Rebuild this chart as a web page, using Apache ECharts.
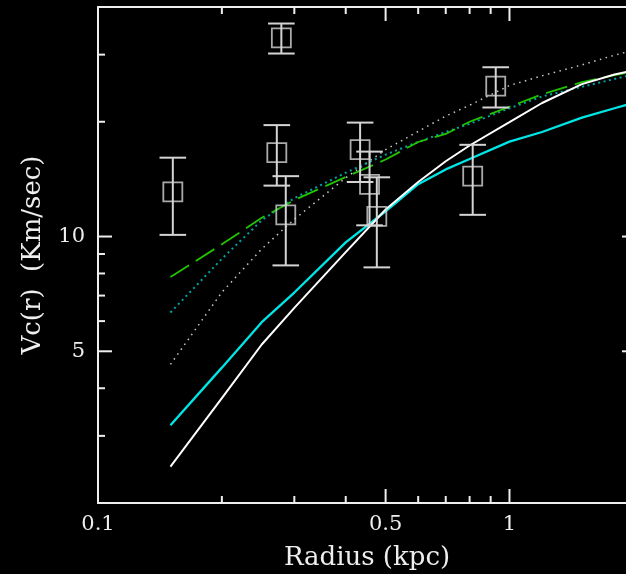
<!DOCTYPE html>
<html>
<head>
<meta charset="utf-8">
<script src="https://cdn.jsdelivr.net/npm/echarts@6/dist/echarts.min.js"></script>
<style>
html,body{margin:0;padding:0;background:#000;}
#chart{width:626px;height:574px;}
</style>
</head>
<body>
<div id="chart"></div>
<script>
// ---- data (linear units; plotted on log-log axes) ----
const radius = [0.15, 0.2, 0.25, 0.3, 0.4, 0.5, 0.6, 0.7, 0.8, 1.0, 1.2, 1.5, 1.8, 2.0];
const vcWhite  = [2.49, 3.77, 5.21, 6.5, 9.1, 11.77, 13.9, 15.76, 17.33, 19.95, 22.4, 25.1, 26.6, 27.3];
const vcCyan   = [3.2, 4.53, 5.96, 7.13, 9.65, 11.65, 13.72, 15.0, 15.97, 17.74, 18.8, 20.5, 21.7, 22.4];
const vcGreen  = [7.83, 9.54, 11.2, 12.46, 14.33, 15.92, 17.7, 18.58, 20.0, 21.9, 23.6, 25.4, 26.5, 27.1];
const vcTeal   = [6.32, 8.74, 11.03, 12.61, 14.7, 16.4, 17.7, 18.8, 19.75, 21.7, 23.3, 24.7, 25.9, 26.6];
const vcGray   = [4.62, 7.14, 9.28, 11.1, 14.26, 16.9, 18.87, 20.7, 22.1, 24.9, 26.4, 28.2, 29.9, 30.8];

const obsRadius = [0.152, 0.279, 0.272, 0.286, 0.4335, 0.457, 0.476, 0.814, 0.926];
const obsVc     = [13.1, 33.2, 16.6, 11.4, 16.9, 13.7, 11.3, 14.4, 24.8];
const obsErr    = [3, 3, 3, 3, 3, 3, 3, 3, 3];

const xMajorTicks = [0.5, 1];
const xMinorTicks = [0.2, 0.3, 0.4, 0.6, 0.7, 0.8, 0.9, 2];
const xTickLabels = [0.1, 0.5, 1];
const yMajorTicks = [5, 10];
const yMinorTicks = [3, 4, 6, 7, 8, 9, 20, 30];
const yTickLabels = [5, 10];
const xRange = [0.1, 2.03];
const yRange = [2, 40];

// ---- build ----
const L = Math.log10;
const fg = '#eeeeee';
const tickColor = '#eeeeee';
const font = 'DejaVu Serif';
const fmt = v => String(Math.round(Math.pow(10, v) * 1000) / 1000);
const curve = ys => radius.map((r, i) => [L(r), L(ys[i])]);
const MAJ = 14, MIN = 7;

function mainAxis(dim, pos, labels, name, gap, margin) {
  const rng = dim === 'x' ? xRange : yRange;
  const a = {
    type: 'value', position: pos, min: L(rng[0]), max: L(rng[1]),
    splitLine: {show: false}, splitArea: {show: false},
    axisLine: {show: true, onZero: false, lineStyle: {color: fg, width: 2}},
    axisTick: {show: false},
    axisLabel: {show: false}
  };
  if (labels) {
    a.axisLabel = {show: true, customValues: labels.map(L), formatter: fmt, color: fg,
      fontFamily: font, fontSize: 21, margin: margin};
  }
  if (name) {
    a.name = name; a.nameLocation = 'middle'; a.nameGap = gap;
    if (dim === 'y') a.nameRotate = 90;
    a.nameTextStyle = {color: fg, fontFamily: font, fontSize: 26};
  }
  return a;
}

const tickData = [].concat(
  xMajorTicks.map(v => [L(v), L(yRange[0]), MAJ, 0]),
  xMinorTicks.map(v => [L(v), L(yRange[0]), MIN, 0]),
  yMajorTicks.map(v => [L(xRange[0]), L(v), MAJ, 1]),
  yMinorTicks.map(v => [L(xRange[0]), L(v), MIN, 1])
);

const lineSeries = (ys, color, width, type) => ({
  type: 'line', data: curve(ys), showSymbol: false, symbol: 'none', smooth: false,
  lineStyle: {color: color, width: width, type: type}, silent: true, z: 2, clip: true
});

const option = {
  backgroundColor: '#000000',
  animation: false,
  grid: {left: 98, top: 7, width: 538, height: 496, outerBoundsMode: 'none', containLabel: false},
  xAxis: [
    mainAxis('x', 'bottom', xTickLabels, 'Radius (kpc)', 42, 11),
    mainAxis('x', 'top', null, null)
  ],
  yAxis: [
    mainAxis('y', 'left', yTickLabels, 'Vc(r)  (Km/sec)', 52, 13),
    mainAxis('y', 'right', null, null)
  ],
  series: [
    lineSeries(vcGray, '#c8c8c8', 1.5, [1.5, 4.5]),
    lineSeries(vcTeal, '#00a3a3', 2, [2, 3.5]),
    lineSeries(vcGreen, '#22c400', 1.8, [22, 8]),
    lineSeries(vcCyan, '#00e6e6', 2.3, 'solid'),
    lineSeries(vcWhite, '#ffffff', 2, 'solid'),
    {
      type: 'custom', z: 3, clip: false, silent: true,
      data: obsRadius.map((r, i) => [L(r), L(obsVc[i] - obsErr[i]), L(obsVc[i] + obsErr[i])]),
      encode: {x: 0, y: [1, 2]},
      renderItem: function (params, api) {
        const x = api.value(0);
        const pLo = api.coord([x, api.value(1)]);
        const pHi = api.coord([x, api.value(2)]);
        const hw = 13.3;
        const st = {stroke: '#d4d4d4', lineWidth: 2};
        return {type: 'group', children: [
          {type: 'line', shape: {x1: pLo[0], y1: pLo[1], x2: pHi[0], y2: pHi[1]}, style: st},
          {type: 'line', shape: {x1: pLo[0] - hw, y1: pLo[1], x2: pLo[0] + hw, y2: pLo[1]}, style: st},
          {type: 'line', shape: {x1: pHi[0] - hw, y1: pHi[1], x2: pHi[0] + hw, y2: pHi[1]}, style: st}
        ]};
      }
    },
    {
      type: 'scatter', z: 4, silent: true,
      data: obsRadius.map((r, i) => [L(r), L(obsVc[i])]),
      symbol: 'rect', symbolSize: 19,
      itemStyle: {color: 'rgba(0,0,0,0)', borderColor: '#d4d4d4', borderWidth: 1.8}
    },
    {
      type: 'custom', z: 6, clip: false, silent: true,
      data: tickData,
      encode: {x: 0, y: 1},
      renderItem: function (params, api) {
        const len = api.value(2), kind = api.value(3);
        const st = {stroke: tickColor, lineWidth: 2};
        if (kind === 0) {
          const x = api.value(0);
          const b = api.coord([x, L(yRange[0])]);
          const t = api.coord([x, L(yRange[1])]);
          return {type: 'group', children: [
            {type: 'line', shape: {x1: b[0], y1: b[1], x2: b[0], y2: b[1] - len}, style: st},
            {type: 'line', shape: {x1: t[0], y1: t[1], x2: t[0], y2: t[1] + len}, style: st}
          ]};
        }
        const y = api.value(1);
        const l = api.coord([L(xRange[0]), y]);
        const r = api.coord([L(xRange[1]), y]);
        return {type: 'group', children: [
          {type: 'line', shape: {x1: l[0], y1: l[1], x2: l[0] + len, y2: l[1]}, style: st},
          {type: 'line', shape: {x1: r[0], y1: r[1], x2: r[0] - len, y2: r[1]}, style: st}
        ]};
      }
    }
  ]
};

const chart = echarts.init(document.getElementById('chart'), null, {renderer: 'canvas'});
chart.setOption(option);
</script>
</body>
</html>
